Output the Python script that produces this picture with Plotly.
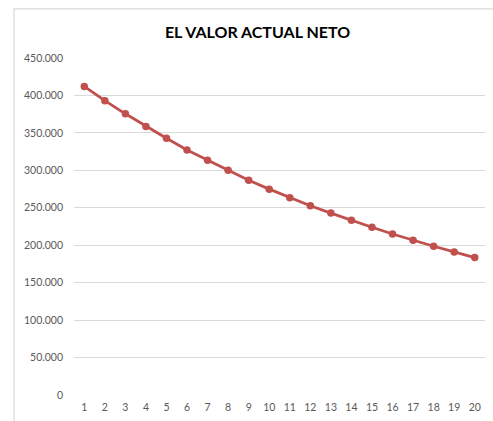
import plotly.graph_objects as go

periods = list(range(1, 21))
van = [412000, 393000, 375500, 358600, 342800, 327100, 313400, 300100, 286800, 274900,
       263300, 252700, 242900, 233200, 223900, 215000, 206600, 198700, 191100, 183500]
y_ticks = [0, 50000, 100000, 150000, 200000, 250000, 300000, 350000, 400000, 450000]
y_labels = ["0", "50.000", "100.000", "150.000", "200.000", "250.000", "300.000",
            "350.000", "400.000", "450.000"]
title_text = "EL VALOR ACTUAL NETO"

W, H = 493, 421
L, R, T, B = 74, 8, 58, 24
pw, ph = W - L - R, H - T - B

fig = go.Figure()
fig.add_trace(go.Scatter(
    x=periods, y=van, mode="lines+markers",
    line=dict(color="#C0504D", width=2.75),
    marker=dict(color="#C0504D", size=7.5),
    showlegend=False, hoverinfo="x+y",
))

def px_x(p):
    return (p - L) / pw

def px_y(p):
    return (H - B - p) / ph

fig.add_shape(type="rect", xref="paper", yref="paper",
              x0=px_x(14), x1=px_x(510), y0=px_y(8.5), y1=px_y(440),
              line=dict(color="#D9D9D9", width=1.2), fillcolor="rgba(0,0,0,0)",
              layer="below")

fig.update_layout(
    width=W, height=H,
    margin=dict(l=L, r=R, t=T, b=B),
    paper_bgcolor="white", plot_bgcolor="white",
    font=dict(family="Lato, 'Open Sans', sans-serif", color="#595959", size=10.5),
    title=dict(text="<b>" + title_text + "</b>", x=257.5 / W, xanchor="center",
               y=1 - 32 / H, yanchor="middle",
               font=dict(family="Lato, 'Open Sans', sans-serif", size=16, color="#000000")),
    xaxis=dict(range=[0.5, 20.5], tickmode="array", tickvals=periods,
               ticktext=[str(p) for p in periods], showgrid=False, zeroline=False,
               showline=False, ticks="", ticklabelstandoff=4, fixedrange=True),
    yaxis=dict(range=[0, 450000], tickmode="array", tickvals=y_ticks, ticktext=y_labels,
               showgrid=True, gridcolor="#D9D9D9", gridwidth=1, zeroline=False,
               showline=False, ticks="", ticklabelstandoff=10, fixedrange=True),
)

fig.write_html("out.html", config={"displayModeBar": False},
               post_script="document.body.style.margin='0';document.body.style.overflow='hidden';")
